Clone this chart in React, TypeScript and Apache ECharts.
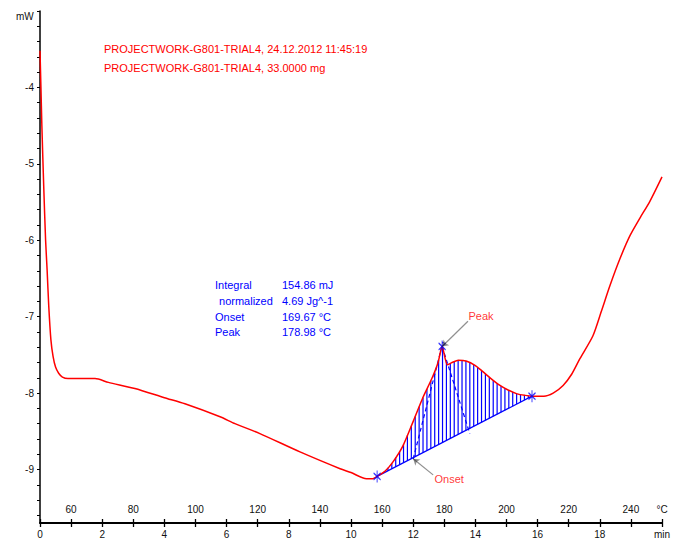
import React, { useEffect, useRef } from "react";
import * as echarts from "echarts";

// DSC curve: time (min) vs heat flow (mW)
const curveT = [
  0, 0.03, 0.06, 0.12, 0.18, 0.23, 0.28, 0.35, 0.42, 0.5, 0.6, 0.72, 0.9, 1.2, 1.77, 2.2,
  3.05, 4.0, 4.66, 5.79, 6.27, 7.07, 8.36, 9.65, 10.0, 10.5, 10.7, 10.84, 11.1, 11.35,
  11.67, 12.0, 12.3, 12.6, 12.8, 12.93, 13.1, 13.25, 13.45, 13.7, 14.0, 14.24, 14.5,
  14.79, 15.05, 15.34, 15.6, 15.82, 16.2, 16.5, 16.82, 17.1, 17.36, 17.78, 18.05, 18.33,
  18.65, 18.97, 19.29, 19.61, 20.0,
];
const curveV = [
  -3.52, -4.0, -4.5, -5.3, -6.0, -6.4, -6.85, -7.3, -7.52, -7.66, -7.74, -7.79, -7.81, -7.81,
  -7.81, -7.86, -7.94, -8.06, -8.14, -8.31, -8.4, -8.53, -8.77, -8.99, -9.04, -9.12,
  -9.12, -9.09, -9.02, -8.9, -8.69, -8.37, -8.07, -7.81, -7.6, -7.39, -7.63, -7.6, -7.57,
  -7.58, -7.64, -7.72, -7.81, -7.9, -7.96, -8.01, -8.03, -8.04, -8.04, -8.0, -7.9, -7.75,
  -7.55, -7.25, -6.93, -6.59, -6.24, -5.94, -5.71, -5.49, -5.17,
];

// integration limits (min) and evaluated points
const integStart = [10.84, -9.09];
const integEnd = [15.82, -8.04];
const onsetPoint = [12.0, -8.86];
const peakPoint = [12.93, -7.39];
const tangentUp = [[12.0, -8.86], [12.96, -7.33]];
const tangentDown = [[12.93, -7.39], [13.82, -8.53]];

const markerT = [10.84, 12.93, 15.82];
const markerV = [-9.09, -7.39, -8.04];

// axis ticks / labels
const yLabelValues = [-9, -8, -7, -6, -5, -4];
const timeLabelValues = [0, 2, 4, 6, 8, 10, 12, 14, 16, 18, 20];
const tempLabelMinutes = [1, 3, 5, 7, 9, 11, 13, 15, 17, 19, 20];
const tempLabels = ["60", "80", "100", "120", "140", "160", "180", "200", "220", "240", "°C"];

const headerLines = [
  "PROJECTWORK-G801-TRIAL4, 24.12.2012 11:45:19",
  "PROJECTWORK-G801-TRIAL4, 33.0000 mg",
];
const resultNames = ["Integral", " normalized", "Onset", "Peak"];
const resultValues = ["154.86 mJ", "4.69 Jg^-1", "169.67 °C", "178.98 °C"];

const FONT = "Liberation Sans";

export default function App() {
  const ref = useRef<HTMLDivElement>(null);

  useEffect(() => {
    if (!ref.current) return;
    const chart = echarts.init(ref.current, undefined, { renderer: "svg" });

    const yTicks: number[] = [];
    for (let i = 0; i <= 33; i++) yTicks.push(Math.round((-9.6 + 0.2 * i) * 10) / 10);

    const curveData = curveT.map((t, i) => [t, curveV[i]]);

    const renderHatch = (params: any, api: any) => {
      const pts = curveData
        .filter((p) => p[0] >= integStart[0] && p[0] <= integEnd[0])
        .map((p) => api.coord(p));
      const b0 = api.coord(integStart);
      const b1 = api.coord(integEnd);
      const children: any[] = [];
      for (let x = b0[0] + 3; x < b1[0] - 1; x += 3.9) {
        let yc = pts[0][1];
        for (let k = 0; k < pts.length - 1; k++) {
          if (x >= pts[k][0] && x <= pts[k + 1][0]) {
            const f = (x - pts[k][0]) / (pts[k + 1][0] - pts[k][0] || 1);
            yc = pts[k][1] + f * (pts[k + 1][1] - pts[k][1]);
            break;
          }
        }
        const yb = b0[1] + ((x - b0[0]) / (b1[0] - b0[0])) * (b1[1] - b0[1]);
        children.push({
          type: "line",
          shape: { x1: x, y1: yc, x2: x, y2: yb },
          style: { stroke: "#0000ff", lineWidth: 1.2 },
        });
      }
      children.push({
        type: "line",
        shape: { x1: b0[0], y1: b0[1], x2: b1[0], y2: b1[1] },
        style: { stroke: "#0000ff", lineWidth: 1.2 },
      });
      return { type: "group", children };
    };

    const graphics: any[] = [
      {
        type: "text",
        left: 16,
        top: 11,
        style: { text: "mW", font: `10px "${FONT}"`, fill: "#111" },
      },
    ];
    headerLines.forEach((t, i) => {
      graphics.push({
        type: "text",
        x: 104,
        y: 49 + i * 19,
        style: { text: t, font: `11px "${FONT}"`, fill: "#ff0000", textVerticalAlign: "middle" },
      });
    });
    resultNames.forEach((t, i) => {
      graphics.push({
        type: "text",
        x: i === 1 ? 216 : 215,
        y: 285 + i * 15.8,
        style: { text: t, font: `11px "${FONT}"`, fill: "#0000ff", textVerticalAlign: "middle" },
      });
      graphics.push({
        type: "text",
        x: 282,
        y: 285 + i * 15.8,
        style: {
          text: resultValues[i],
          font: `11px "${FONT}"`,
          fill: "#0000ff",
          textVerticalAlign: "middle",
        },
      });
    });

    chart.setOption({
      animation: false,
      backgroundColor: "#ffffff",
      textStyle: { fontFamily: FONT },
      grid: { left: 40, right: 13, top: 11, bottom: 21, containLabel: false },
      xAxis: [
        {
          type: "value",
          min: 0,
          max: 20,
          interval: 1,
          position: "bottom",
          axisLine: { show: true, onZero: false, lineStyle: { color: "#000", width: 2 } },
          axisTick: { show: true, inside: false, length: 4, lineStyle: { color: "#000", width: 1.3 } },
          axisLabel: {
            customValues: timeLabelValues,
            formatter: (v: number) => (v === 20 ? "min" : String(v)),
            fontSize: 10,
            color: "#111",
            margin: 6,
            fontFamily: FONT,
          },
          splitLine: { show: false },
        },
        {
          type: "value",
          min: 0,
          max: 20,
          interval: 1,
          position: "bottom",
          axisLine: { show: false, onZero: false },
          axisTick: { show: true, inside: true, length: 4, lineStyle: { color: "#000", width: 1.3 } },
          axisLabel: {
            inside: true,
            customValues: tempLabelMinutes,
            formatter: (v: number) => {
              const idx = tempLabelMinutes.indexOf(v);
              return idx >= 0 ? tempLabels[idx] : "";
            },
            fontSize: 10,
            color: "#111",
            margin: 9,
            fontFamily: FONT,
          },
          splitLine: { show: false },
        },
      ],
      yAxis: {
        type: "value",
        min: -9.7,
        max: -3,
        axisLine: { show: true, onZero: false, lineStyle: { color: "#000", width: 1.5 } },
        axisTick: { show: true, customValues: yTicks, length: 3, lineStyle: { color: "#000" } },
        axisLabel: {
          customValues: yLabelValues,
          fontSize: 10,
          color: "#111",
          margin: 6,
          fontFamily: FONT,
        },
        splitLine: { show: false },
      },
      graphic: graphics,
      series: [
        {
          type: "custom",
          coordinateSystem: "cartesian2d",
          data: [[integStart[0], integStart[1], integEnd[0], integEnd[1]]],
          renderItem: renderHatch,
          silent: true,
          z: 2,
        },
        {
          type: "line",
          data: [tangentUp[0], tangentUp[1]],
          showSymbol: false,
          lineStyle: { color: "#0000ff", width: 1.2, type: [4, 3] },
          z: 3,
        },
        {
          type: "line",
          data: [tangentDown[0], tangentDown[1]],
          showSymbol: false,
          lineStyle: { color: "#0000ff", width: 1.2, type: [4, 3] },
          z: 3,
        },
        {
          type: "line",
          data: curveData,
          showSymbol: false,
          smooth: 0.25,
          lineStyle: { color: "#ff0000", width: 1.5 },
          z: 5,
        },
        {
          type: "scatter",
          data: markerT.map((t, i) => [t, markerV[i]]),
          symbol: "path://M0,3L8,11M8,3L0,11M4,0L4,14",
          symbolSize: [7, 12],
          itemStyle: { color: "none", borderColor: "#0000ff", borderWidth: 1.2 },
          z: 6,
        },
        {
          type: "lines",
          coordinateSystem: "cartesian2d",
          data: [
            { coords: [[13.76, -7.06], peakPoint] },
            { coords: [[12.64, -9.07], onsetPoint] },
          ],
          lineStyle: { color: "#222", width: 1.2 },
          symbol: ["none", "arrow"],
          symbolSize: 6,
          z: 7,
        },
        {
          type: "scatter",
          data: [
            [13.76, -6.99, "Peak"],
            [12.67, -9.12, "Onset"],
          ],
          symbolSize: 1,
          itemStyle: { color: "rgba(0,0,0,0)" },
          label: {
            show: true,
            position: "right",
            distance: 0,
            formatter: (p: any) => p.data[2],
            color: "#ff0000",
            fontSize: 11,
            fontFamily: FONT,
          },
          z: 8,
        },
      ],
    });

    return () => chart.dispose();
  }, []);

  return (
    <div
      ref={ref}
      style={{ position: "fixed", left: 0, top: 0, width: 675, height: 544, background: "#fff" }}
    />
  );
}
